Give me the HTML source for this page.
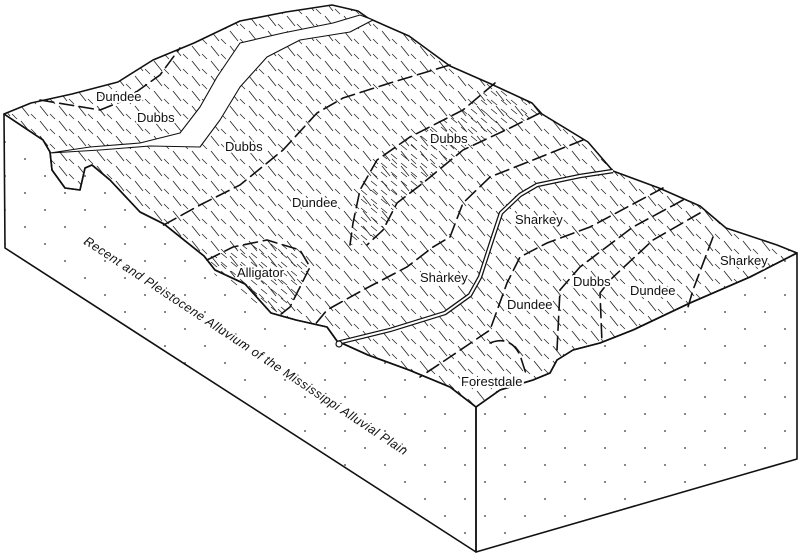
<!DOCTYPE html>
<html><head><meta charset="utf-8"><style>
html,body{margin:0;padding:0;background:#fff;}
svg{display:block}
text{font-family:"Liberation Sans",sans-serif;font-size:13px;fill:#111;paint-order:stroke;stroke:#fff;stroke-width:4px;stroke-linejoin:round;}
</style></head><body>
<svg width="800" height="556" viewBox="0 0 800 556" xmlns="http://www.w3.org/2000/svg">
<defs>
<pattern id="h" width="19" height="15" patternUnits="userSpaceOnUse">
<line x1="2" y1="1" x2="10" y2="11" stroke="#222" stroke-width="0.8"/>
<line x1="12" y1="9" x2="17" y2="14" stroke="#222" stroke-width="0.7"/>
</pattern>
<pattern id="h2" width="10" height="9" patternUnits="userSpaceOnUse">
<line x1="1" y1="1" x2="7" y2="6" stroke="#222" stroke-width="0.8"/>
</pattern>
<pattern id="d" width="40" height="34" patternUnits="userSpaceOnUse">
<circle cx="5" cy="6" r="0.9" fill="#333"/><circle cx="25" cy="23" r="0.9" fill="#333"/>
</pattern>
</defs>
<g fill="none" stroke="#111" stroke-width="1.6" stroke-linejoin="round">
<path d="M4,114 L43,140 L50,152 L52,170 L65,188 L80,190 L85,168 L92,165 L110,180 L140,212 L164,224 L204,256 L215,270 L245,284 L271,313 L296,320 L327,327 L337,341 L368,355 L409,370 L450,387 L476,407 L476,552 L5,248 Z" fill="url(#d)"/>
<path d="M476,407 L500,390 L533,380 L550,373 L557,360 L573,350 L600,343 L633,330 L690,303 L750,277 L797,253 L797,459 L476,552 Z" fill="url(#d)"/>
<path d="M4,114 L31,103 L72,94 L118,82 L153,60 L194,43 L240,21 L286,12 L332,5 L358,11 L368,18 L409,36 L450,66 L491,84 L532,103 L542,114 L588,142 L613,171 L659,188 L700,206 L726,228 L777,245 L797,253 L750,277 L690,303 L633,330 L600,343 L573,350 L557,360 L550,373 L533,380 L500,390 L476,407 L450,387 L409,370 L368,355 L337,341 L327,327 L296,320 L271,313 L245,284 L215,270 L204,256 L164,224 L140,212 L110,180 L92,165 L85,168 L80,190 L65,188 L52,170 L50,152 L43,140 Z" fill="url(#h)"/>
<path d="M50,153 L100,150 L150,146 L200,147 L220,120 L240,87 L267,57 L300,40 L350,32 L373,20 L360,15 L333,23 L283,33 L240,43 L217,77 L200,107 L180,133 L140,143 L90,147 Z" fill="#fff" stroke-width="1.1"/>
<path d="M337,343 L390,330 L445,313 L470,295 L480,277 L492,240 L501,213 L520,195 L537,185 L580,176 L613,171" stroke-width="4.5"/>
<path d="M337,343 L390,330 L445,313 L470,295 L480,277 L492,240 L501,213 L520,195 L537,185 L580,176 L613,171" stroke="#fff" stroke-width="2"/>
<circle cx="339" cy="344" r="3" stroke-width="1.2" fill="#fff"/>
</g>
<path d="M495,83 L463,110 L410,137 L377,160 L360,190 L353,223 L350,245 L367,245 L383,230 L397,203 L423,183 L463,150 L510,128 L540,113 Z" fill="url(#h2)"/>
<path d="M207,260 L233,247 L267,240 L300,250 L310,267 L300,287 L290,307 L280,315 L250,300 L215,275 Z" fill="url(#h2)"/>
<g fill="none" stroke="#111" stroke-width="1.6" stroke-dasharray="14,6" stroke-linecap="round">
<path d="M40,100 L70,105 L100,110 L125,100 L160,75 L180,48"/>
<path d="M450,65 L390,83 L343,98 L317,113 L283,150 L240,185 L200,205 L160,227"/>
<path d="M495,83 L463,110 L410,137 L377,160 L360,190 L353,223 L350,245"/>
<path d="M540,113 L510,128 L463,150 L423,183 L397,203 L383,230 L367,245"/>
<path d="M583,140 L533,160 L490,177 L463,203 L450,237 L433,247 L407,267 L363,290 L327,310 L313,327"/>
<path d="M663,188 L590,227 L547,243 L520,257 L507,283 L490,330 L450,357 L420,377"/>
<path d="M683,200 L633,227 L580,267 L560,290 L557,350"/>
<path d="M700,213 L653,240 L610,280 L600,293 L602,343"/>
<path d="M713,237 L693,290 L688,307"/>
<path d="M207,260 L233,247 L267,240 L300,250 L310,267 L300,287 L290,307 L280,315"/>
<path d="M490,343 Q510,335 520,355 L527,377"/>
</g>
<text x="96" y="101">Dundee</text>
<text x="137" y="122">Dubbs</text>
<text x="225" y="151">Dubbs</text>
<text x="430" y="143">Dubbs</text>
<text x="292" y="207">Dundee</text>
<text x="515" y="224">Sharkey</text>
<text x="237" y="277">Alligator</text>
<text x="420" y="282">Sharkey</text>
<text x="507" y="309">Dundee</text>
<text x="573" y="286">Dubbs</text>
<text x="630" y="295">Dundee</text>
<text x="720" y="265">Sharkey</text>
<text x="461" y="386">Forestdale</text>
<text transform="translate(83,243) rotate(33.5)" textLength="385" style="font-style:italic;font-size:12.5px;stroke:none">Recent and Pleistocene Alluvium of the  Mississippi Alluvial Plain</text>
</svg>
</body></html>
